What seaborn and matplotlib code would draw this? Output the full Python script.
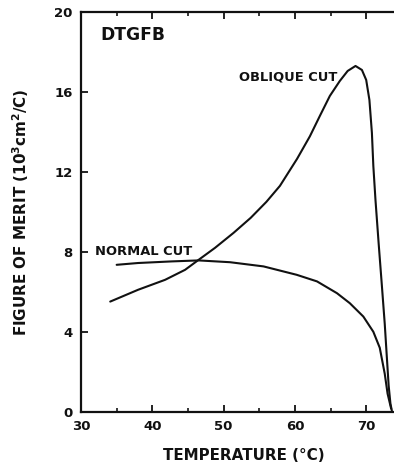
import matplotlib
matplotlib.use("Agg")
import matplotlib.pyplot as plt
import seaborn as sns
import pandas as pd
from matplotlib.ticker import MultipleLocator

# ---- data ----
normal_T = [35.0, 38.0, 42.7, 46.5, 50.9, 55.6, 60.25, 63.1, 65.9, 67.7, 69.6,
            71.0, 71.9, 72.6, 73.0, 73.5]
normal_M = [7.35, 7.44, 7.52, 7.57, 7.48, 7.27, 6.85, 6.52, 5.93, 5.43, 4.76,
            4.0, 3.2, 1.9, 0.9, 0.15]

oblique_T = [34.1, 38.0, 41.8, 44.6, 46.5, 48.8, 51.4, 53.8, 56.0, 57.9, 60.3, 62.1,
             63.5, 64.9, 66.3, 67.4, 68.5, 69.4, 70.0, 70.45, 70.8, 71.0, 71.3, 71.75,
             72.2, 72.6, 72.9, 73.15, 73.4, 73.6]
oblique_M = [5.51, 6.10, 6.60, 7.10, 7.60, 8.2, 8.95, 9.7, 10.5, 11.3, 12.65, 13.78,
             14.8, 15.8, 16.55, 17.05, 17.3, 17.1, 16.6, 15.6, 13.95, 12.3, 10.6, 8.4,
             6.3, 4.4, 2.7, 1.3, 0.4, 0.05]

x_ticks = [30, 40, 50, 60, 70]
y_ticks = [0, 4, 8, 12, 16, 20]

sns.set_style("ticks")
plt.rcParams['font.family'] = ['DejaVu Sans']
plt.rcParams['font.weight'] = 'bold'
plt.rcParams['text.color'] = '#111111'
plt.rcParams['axes.labelcolor'] = '#111111'

df = pd.concat([
    pd.DataFrame({"T": normal_T, "M": normal_M, "cut": "NORMAL CUT"}),
    pd.DataFrame({"T": oblique_T, "M": oblique_M, "cut": "OBLIQUE CUT"}),
])

fig = plt.figure(figsize=(3.94, 4.69), dpi=100)
ax = fig.add_axes([81 / 394, 1 - 411.7 / 469, 313 / 394, (411.7 - 12) / 469])

sns.lineplot(data=df, x="T", y="M", hue="cut", units="cut", estimator=None, sort=False,
             palette={"NORMAL CUT": "#111111", "OBLIQUE CUT": "#111111"},
             linewidth=1.5, legend=False, ax=ax)

ax.set_xlim(30, 30 + 313 / 7.13)
ax.set_ylim(0, 20)
ax.set_xticks(x_ticks)
ax.set_yticks(y_ticks)
ax.xaxis.set_minor_locator(MultipleLocator(5))

for s in ["left", "top", "bottom"]:
    ax.spines[s].set_linewidth(1.6)
    ax.spines[s].set_color("#111111")
ax.spines["right"].set_visible(False)

ax.tick_params(axis="x", which="major", direction="in", length=5, width=1.3, top=True,
               labelsize=9.5, pad=6, colors="#111111")
ax.tick_params(axis="x", which="minor", direction="in", length=3, width=1.3, top=True)
ax.tick_params(axis="y", which="major", direction="in", length=5, width=1.3,
               labelsize=9.5, pad=6, colors="#111111")
for lab in ax.get_xticklabels() + ax.get_yticklabels():
    lab.set_fontweight("bold")

ax.set_xlabel("TEMPERATURE (°C)", fontsize=10.9, fontweight="bold")
ax.xaxis.set_label_coords((244 - 81) / 313, -(455.7 - 411.7) / 399.7)
ax.xaxis.label.set_va("center")
ax.set_ylabel("FIGURE OF MERIT (10$^\\mathbf{3}$cm$^\\mathbf{2}$/C)", fontsize=10.9,
              fontweight="bold")
ax.yaxis.set_label_coords(-(81 - 21) / 313, 0.5)
ax.yaxis.label.set_va("center")

ax.text(32.7, 18.85, "DTGFB", fontsize=12.3, fontweight="bold", va="center", ha="left")
ax.text(65.9, 16.75, "OBLIQUE CUT", fontsize=9.4, fontweight="bold", va="center", ha="right")
ax.text(32.0, 8.02, "NORMAL CUT", fontsize=9.4, fontweight="bold", va="center", ha="left")

fig.savefig("out.png", dpi=100)
